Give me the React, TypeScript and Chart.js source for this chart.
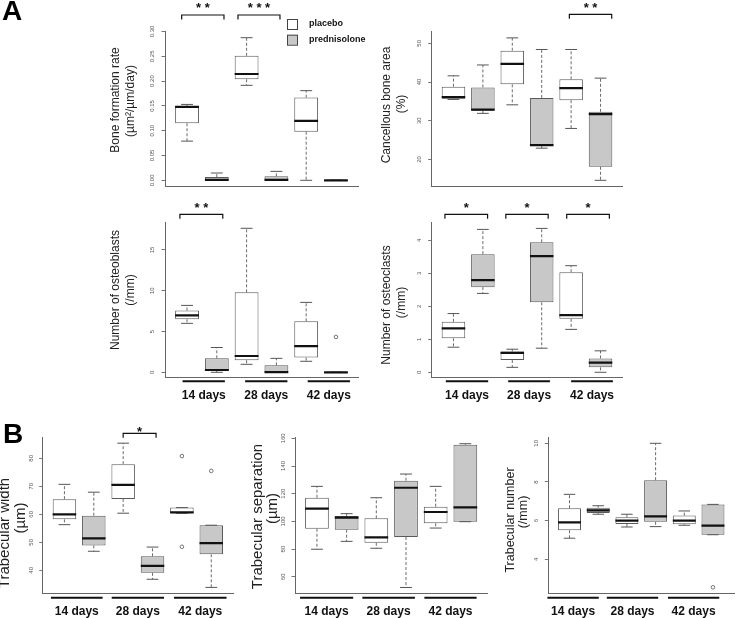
import React, { useEffect, useRef } from "react";
import { Chart, registerables } from "chart.js";

Chart.register(...registerables);

// ---------- categories ----------
const dayGroups = ["14 days", "28 days", "42 days"];
const seriesNames = ["placebo", "prednisolone"];

// ---------- box statistics per group: [lower whisker, Q1, median, Q3, upper whisker] ----------
const boneFormationPlacebo = [[0.079, 0.115, 0.148, 0.150, 0.153], [0.1915, 0.2036, 0.2143, 0.251, 0.2875], [0.0, 0.098, 0.120, 0.1667, 0.1807]];
const boneFormationPred = [[0, 0, 0.001, 0.0065, 0.0147], [0, 0, 0.001, 0.008, 0.018], [0, 0, 0, 0, 0]];
const boneFormationTicks = [0, 0.05, 0.1, 0.15, 0.2, 0.25, 0.3];
const boneFormationTickLabels = ["0.00", "0.05", "0.10", "0.15", "0.20", "0.25", "0.30"];

const cancellousPlacebo = [[35.5, 35.7, 36.1, 38.8, 41.6], [34.1, 39.4, 44.7, 48.1, 51.4], [28.0, 35.3, 38.4, 40.7, 48.4]];
const cancellousPred = [[31.9, 32.5, 32.9, 38.6, 44.4], [22.9, 23.5, 23.7, 35.9, 48.4], [14.6, 18.1, 31.7, 32.3, 41.0]];
const cancellousTicks = [20, 30, 40, 50];

const osteoblastsPlacebo = [[6.0, 6.5, 6.98, 7.58, 8.2], [0.98, 1.48, 2.0, 9.8, 17.65], [1.35, 1.8, 3.22, 6.25, 8.57]];
const osteoblastsPred = [[0, 0.16, 0.28, 1.71, 3.04], [0, 0, 0.02, 0.85, 1.71], [0, 0, 0, 0, 0]];
const osteoblastsPredOutliers = [[], [], [4.33]];
const osteoblastsTicks = [0, 5, 10, 15];

const osteoclastsPlacebo = [[0.76, 1.03, 1.33, 1.53, 1.78], [0.15, 0.37, 0.59, 0.63, 0.70], [1.30, 1.62, 1.73, 3.03, 3.23]];
const osteoclastsPred = [[2.39, 2.58, 2.79, 3.58, 4.33], [0.73, 2.12, 3.52, 3.94, 4.36], [0.0, 0.15, 0.29, 0.42, 0.65]];
const osteoclastsTicks = [0, 1, 2, 3, 4];

const trabWidthPlacebo = [[56.3, 58.2, 60.0, 65.4, 70.7], [60.4, 65.5, 70.5, 77.9, 85.4], [60.4, 60.4, 60.7, 62.4, 62.4]];
const trabWidthPred = [[46.8, 48.9, 51.4, 59.5, 67.9], [36.8, 39.1, 41.6, 45.0, 48.3], [33.9, 45.7, 49.7, 56.1, 56.1]];
const trabWidthPlaceboOutliers = [[], [], [80.8, 48.4]];
const trabWidthPredOutliers = [[], [], [75.5]];
const trabWidthTicks = [40, 50, 60, 70, 80];

const trabSepPlacebo = [[79.9, 94.7, 109.2, 117.1, 125.3], [80.6, 84.6, 88.5, 102.2, 117.1], [95.2, 98.6, 106.8, 110.6, 125.3]];
const trabSepPred = [[85.6, 94.0, 102.7, 103.9, 105.6], [52.3, 88.7, 124.3, 129.4, 134.2], [99.8, 99.8, 110.2, 155.4, 156.1]];
const trabSepTicks = [60, 80, 100, 120, 140, 160];

const trabNumPlacebo = [[5.09, 5.50, 5.91, 6.64, 7.36], [5.67, 5.83, 6.0, 6.17, 6.33], [5.76, 5.81, 6.0, 6.26, 6.5]];
const trabNumPred = [[6.33, 6.39, 6.53, 6.67, 6.77], [5.69, 5.94, 6.22, 8.09, 10.0], [5.27, 5.27, 5.74, 6.84, 6.84]];
const trabNumPredOutliers = [[], [], [2.55]];
const trabNumTicks = [4, 6, 8, 10];

// ---------- layout / style ----------
const FONT = '"Liberation Sans", Arial, Helvetica, sans-serif';
const PLACEBO_FILL = "#ffffff";
const PRED_FILL = "#c8c8c8";

type Bracket = { from: number; to: number; y: number; starBase: number; stars: string };
type Spec = {
  key: string;
  rect: number[];
  area: number[];
  yMin: number;
  yMax: number;
  ticks: number[];
  tickLabels: string[];
  tickSize: number;
  tickGap: number;
  placebo: number[][];
  pred: number[][];
  placeboOut?: number[][];
  predOut?: number[][];
  title: string[];
  titleX: number[];
  titleY: number[];
  titleSize: number;
  brackets: Bracket[];
  groupLines?: number[][];
  lineOff?: number;
  labelOff?: number;
  letter?: { text: string; x: number; y: number };
  legend?: { x: number; ys: number[]; textX: number };
};

const str = (a: number[]) => a.map((v) => String(v));

const panels: Spec[] = [
  {
    key: "bfr",
    rect: [0, 0, 370, 198],
    area: [165, 31, 358, 186.5],
    yMin: -0.0125,
    yMax: 0.301,
    ticks: boneFormationTicks,
    tickLabels: boneFormationTickLabels,
    tickSize: 6,
    tickGap: 12.5,
    placebo: boneFormationPlacebo,
    pred: boneFormationPred,
    title: ["Bone formation rate", "(\u00b5m\u00b2/\u00b5m/day)"],
    titleX: [116, 131],
    titleY: [100, 101],
    titleSize: 12,
    brackets: [
      { from: 0.82, to: 2.24, y: 15, starBase: 12.4, stars: "**" },
      { from: 2.71, to: 4.12, y: 15, starBase: 12.4, stars: "***" },
    ],
    letter: { text: "A", x: 2, y: 20 },
    legend: { x: 287, ys: [24, 39.7], textX: 309 },
  },
  {
    key: "cba",
    rect: [370, 0, 369, 198],
    area: [431.7, 31, 622.3, 186.5],
    yMin: 13.0,
    yMax: 53.18,
    ticks: cancellousTicks,
    tickLabels: str(cancellousTicks),
    tickSize: 6,
    tickGap: 12.5,
    placebo: cancellousPlacebo,
    pred: cancellousPred,
    title: ["Cancellous bone area", "(%)"],
    titleX: [387, 402],
    titleY: [105, 104],
    titleSize: 12,
    brackets: [{ from: 4.94, to: 6.38, y: 14.3, starBase: 12.4, stars: "**" }],
  },
  {
    key: "ob",
    rect: [0, 198, 370, 212],
    area: [165, 222.5, 358, 377.8],
    yMin: -0.674,
    yMax: 18.36,
    ticks: osteoblastsTicks,
    tickLabels: str(osteoblastsTicks),
    tickSize: 6,
    tickGap: 12.5,
    placebo: osteoblastsPlacebo,
    pred: osteoblastsPred,
    predOut: osteoblastsPredOutliers,
    title: ["Number of osteoblasts", "(/mm)"],
    titleX: [116, 131],
    titleY: [290, 290],
    titleSize: 12,
    brackets: [{ from: 0.76, to: 2.2, y: 214.3, starBase: 212.4, stars: "**" }],
    groupLines: [[0.85, 2.27], [2.95, 4.37], [5.05, 6.47]],
    lineOff: 3.5,
    labelOff: 21,
  },
  {
    key: "oc",
    rect: [370, 198, 369, 212],
    area: [431.7, 222.5, 622.3, 377.8],
    yMin: -0.167,
    yMax: 4.539,
    ticks: osteoclastsTicks,
    tickLabels: str(osteoclastsTicks),
    tickSize: 6,
    tickGap: 12.5,
    placebo: osteoclastsPlacebo,
    pred: osteoclastsPred,
    title: ["Number of osteoclasts", "(/mm)"],
    titleX: [387, 402],
    titleY: [305, 302.5],
    titleSize: 12,
    brackets: [
      { from: 0.71, to: 2.16, y: 214.3, starBase: 212.4, stars: "*" },
      { from: 2.78, to: 4.22, y: 214.3, starBase: 212.4, stars: "*" },
      { from: 4.85, to: 6.3, y: 214.3, starBase: 212.4, stars: "*" },
    ],
    groupLines: [[0.74, 2.18], [2.86, 4.28], [5.0, 6.42]],
    lineOff: 3.5,
    labelOff: 21,
  },
  {
    key: "tw",
    rect: [0, 410, 245, 208],
    area: [42.7, 437.5, 233, 593.3],
    yMin: 31.79,
    yMax: 87.43,
    ticks: trabWidthTicks,
    tickLabels: str(trabWidthTicks),
    tickSize: 6,
    tickGap: 11.5,
    placebo: trabWidthPlacebo,
    pred: trabWidthPred,
    placeboOut: trabWidthPlaceboOutliers,
    predOut: trabWidthPredOutliers,
    title: ["Trabecular width", "(\u00b5m)"],
    titleX: [5, 21],
    titleY: [533, 518],
    titleSize: 15,
    brackets: [{ from: 3.0, to: 4.12, y: 433.3, starBase: 435.7, stars: "*" }],
    groupLines: [[0.54, 2.3], [2.61, 4.39], [4.73, 6.52]],
    lineOff: 4.4,
    labelOff: 21.5,
    letter: { text: "B", x: 3, y: 443 },
  },
  {
    key: "ts",
    rect: [245, 410, 245, 208],
    area: [295, 437.5, 487.3, 593.3],
    yMin: 48.09,
    yMax: 160.58,
    ticks: trabSepTicks,
    tickLabels: str(trabSepTicks),
    tickSize: 6,
    tickGap: 11.5,
    placebo: trabSepPlacebo,
    pred: trabSepPred,
    title: ["Trabecular separation", "(\u00b5m)"],
    titleX: [257.5, 273],
    titleY: [516.5, 508.5],
    titleSize: 15,
    brackets: [],
    groupLines: [[0.43, 2.22], [2.53, 4.3], [4.62, 6.38]],
    lineOff: 4.4,
    labelOff: 21.5,
  },
  {
    key: "tn",
    rect: [490, 410, 249, 208],
    area: [548.3, 437.5, 738.4, 593.3],
    yMin: 2.24,
    yMax: 10.3,
    ticks: trabNumTicks,
    tickLabels: str(trabNumTicks),
    tickSize: 6,
    tickGap: 11.5,
    placebo: trabNumPlacebo,
    pred: trabNumPred,
    predOut: trabNumPredOutliers,
    title: ["Trabecular number", "(/mm)"],
    titleX: [511, 524],
    titleY: [520, 512],
    titleSize: 12.5,
    brackets: [],
    groupLines: [[0.23, 2.02], [2.3, 4.09], [4.43, 6.22]],
    lineOff: 4.4,
    labelOff: 21.5,
  },
];

function buildConfig(p: Spec): any {
  const [rx, ry, rw, rh] = p.rect;
  const [al, at, ar, ab] = p.area;
  const pos = (g: number, s: number) => 2 * g + 1 + s;
  const series = [p.placebo, p.pred];
  const outs = [p.placeboOut || [[], [], []], p.predOut || [[], [], []]];
  const whiskers: any[] = [];
  const caps: any[] = [];
  const medians: any[] = [];
  const outliers: any[] = [];
  series.forEach((boxes, s) =>
    boxes.forEach((b, g) => {
      const x = pos(g, s);
      whiskers.push({ x, y: b[3] }, { x, y: b[4] }, { x, y: null }, { x, y: b[1] }, { x, y: b[0] }, { x, y: null });
      caps.push({ x, y: b[0] }, { x, y: b[4] });
      medians.push({ x, y: b[2] });
      (outs[s][g] || []).forEach((v) => outliers.push({ x, y: v }));
    })
  );
  const halfPx = (u: number) => (c: any) => {
    const sc = c.chart.scales.x;
    return Math.abs(sc.getPixelForValue(1 + u) - sc.getPixelForValue(1));
  };

  const decor = {
    id: "decor_" + p.key,
    afterDraw(chart: any) {
      const ctx = chart.ctx as CanvasRenderingContext2D;
      const xs = chart.scales.x;
      const ys = chart.scales.y;
      const area = chart.chartArea;
      ctx.save();
      // y tick labels (rotated, R style)
      ctx.fillStyle = "#555";
      ctx.font = `${p.tickSize}px ${FONT}`;
      ctx.textAlign = "center";
      ctx.textBaseline = "middle";
      ys.ticks.forEach((t: any, i: number) => {
        const y = ys.getPixelForValue(t.value);
        ctx.save();
        ctx.translate(area.left - p.tickGap, y);
        ctx.rotate(-Math.PI / 2);
        ctx.fillText(p.tickLabels[i] ?? String(t.value), 0, 0);
        ctx.restore();
      });
      // axis title
      ctx.fillStyle = "#222";
      ctx.font = `${p.titleSize}px ${FONT}`;
      p.title.forEach((line, i) => {
        ctx.save();
        ctx.translate(p.titleX[i] - rx, p.titleY[i] - ry);
        ctx.rotate(-Math.PI / 2);
        ctx.fillText(line, 0, 0);
        ctx.restore();
      });
      // significance brackets
      ctx.strokeStyle = "#111";
      ctx.lineWidth = 1.2;
      ctx.fillStyle = "#111";
      ctx.font = `bold 13px ${FONT}`;
      ctx.textBaseline = "alphabetic";
      p.brackets.forEach((b) => {
        const x1 = xs.getPixelForValue(b.from);
        const x2 = xs.getPixelForValue(b.to);
        const y = b.y - ry;
        ctx.beginPath();
        ctx.moveTo(x1, y + 4.5);
        ctx.lineTo(x1, y);
        ctx.lineTo(x2, y);
        ctx.lineTo(x2, y + 4.5);
        ctx.stroke();
        ctx.fillText(b.stars.split("").join(" "), (x1 + x2) / 2, b.starBase - ry);
      });
      // group lines and labels under the x axis
      if (p.groupLines) {
        ctx.lineWidth = 2;
        ctx.font = `bold 12px ${FONT}`;
        p.groupLines.forEach((seg, i) => {
          const x1 = xs.getPixelForValue(seg[0]);
          const x2 = xs.getPixelForValue(seg[1]);
          const y = area.bottom + (p.lineOff || 4);
          ctx.beginPath();
          ctx.moveTo(x1, y);
          ctx.lineTo(x2, y);
          ctx.stroke();
          ctx.fillText(dayGroups[i], (x1 + x2) / 2, area.bottom + (p.labelOff || 21));
        });
      }
      // legend
      if (p.legend) {
        const L = p.legend;
        chart.data.datasets.slice(0, 2).forEach((ds: any, i: number) => {
          const cy = L.ys[i] - ry;
          const x = L.x - rx;
          ctx.fillStyle = ds.backgroundColor;
          ctx.fillRect(x, cy - 5, 10, 10);
          ctx.strokeStyle = "#444";
          ctx.lineWidth = 1;
          ctx.strokeRect(x + 0.5, cy - 4.5, 10, 10);
          ctx.fillStyle = "#111";
          ctx.font = `bold 9px ${FONT}`;
          ctx.textAlign = "left";
          ctx.textBaseline = "middle";
          ctx.fillText(ds.label, L.textX - rx, cy);
        });
      }
      // panel letter
      if (p.letter) {
        ctx.fillStyle = "#000";
        ctx.font = `bold 28px ${FONT}`;
        ctx.textAlign = "left";
        ctx.textBaseline = "alphabetic";
        ctx.fillText(p.letter.text, p.letter.x - rx, p.letter.y - ry);
      }
      ctx.restore();
    },
  };

  return {
    type: "bar",
    data: {
      datasets: [
        {
          type: "bar",
          label: seriesNames[0],
          data: p.placebo.map((b, g) => ({ x: pos(g, 0), y: [b[1], b[3]] })),
          backgroundColor: PLACEBO_FILL,
          borderColor: "#5a5a5a",
          borderWidth: 1,
          borderSkipped: false,
          grouped: false,
          barPercentage: 0.8,
          categoryPercentage: 1,
          order: 2,
        },
        {
          type: "bar",
          label: seriesNames[1],
          data: p.pred.map((b, g) => ({ x: pos(g, 1), y: [b[1], b[3]] })),
          backgroundColor: PRED_FILL,
          borderColor: "#5a5a5a",
          borderWidth: 1,
          borderSkipped: false,
          grouped: false,
          barPercentage: 0.8,
          categoryPercentage: 1,
          order: 2,
        },
        {
          type: "line",
          label: "whiskers",
          data: whiskers,
          borderColor: "#6a6a6a",
          borderWidth: 1,
          borderDash: [3, 2],
          pointRadius: 0,
          spanGaps: false,
          fill: false,
          order: 3,
        },
        {
          type: "scatter",
          label: "caps",
          data: caps,
          pointStyle: "line",
          pointRadius: halfPx(0.2),
          pointBorderWidth: 1,
          pointBorderColor: "#555",
          pointBackgroundColor: "#555",
          order: 1,
        },
        {
          type: "scatter",
          label: "medians",
          data: medians,
          pointStyle: "line",
          pointRadius: halfPx(0.4),
          pointBorderWidth: 2.2,
          pointBorderColor: "#111",
          pointBackgroundColor: "#111",
          order: 0,
        },
        {
          type: "scatter",
          label: "outliers",
          data: outliers,
          pointStyle: "circle",
          pointRadius: 1.8,
          pointBorderWidth: 0.8,
          pointBorderColor: "#555",
          pointBackgroundColor: "rgba(0,0,0,0)",
          order: 0,
        },
      ],
    },
    options: {
      responsive: false,
      animation: false,
      events: [],
      devicePixelRatio: 1,
      layout: {
        padding: { left: al - rx, top: at - ry, right: rx + rw - ar, bottom: ry + rh - ab },
      },
      plugins: {
        legend: { display: false },
        tooltip: { enabled: false },
        title: { display: false },
        colors: { enabled: false },
      },
      scales: {
        x: {
          type: "linear",
          min: 0.26,
          max: 6.74,
          offset: false,
          ticks: { display: false, stepSize: 1, includeBounds: false },
          grid: { display: false, offset: false },
          border: { display: true, color: "#666", width: 1 },
          afterFit: (s: any) => {
            s.height = 0;
          },
        },
        y: {
          type: "linear",
          min: p.yMin,
          max: p.yMax,
          afterBuildTicks: (s: any) => {
            s.ticks = p.ticks.map((v) => ({ value: v }));
          },
          afterFit: (s: any) => {
            s.width = 0;
          },
          ticks: { display: false },
          grid: { display: true, drawOnChartArea: false, drawTicks: true, tickLength: 3.5, color: "#777", lineWidth: 1 },
          border: { display: true, color: "#666", width: 1 },
        },
      },
    },
    plugins: [decor],
  };
}

function BoxPanel({ spec }: { spec: Spec }) {
  const ref = useRef<HTMLCanvasElement>(null);
  useEffect(() => {
    if (!ref.current) return;
    const chart = new Chart(ref.current, buildConfig(spec));
    return () => chart.destroy();
  }, [spec]);
  const [x, y, w, h] = spec.rect;
  return (
    <canvas
      ref={ref}
      width={w}
      height={h}
      style={{ position: "absolute", left: x, top: y, width: w, height: h }}
    />
  );
}

export default function App() {
  return (
    <div style={{ position: "absolute", left: 0, top: 0, width: 739, height: 618, background: "#fff", overflow: "hidden" }}>
      {panels.map((p) => (
        <BoxPanel key={p.key} spec={p} />
      ))}
    </div>
  );
}
